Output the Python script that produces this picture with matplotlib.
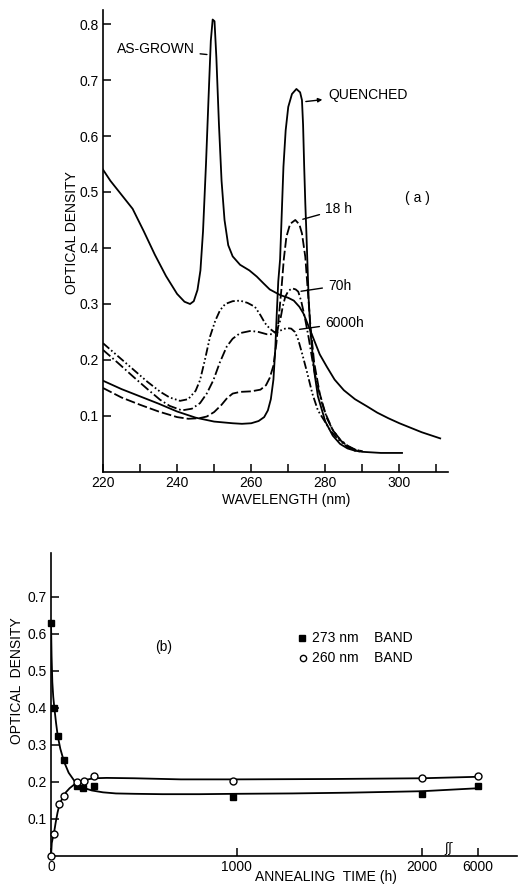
#!/usr/bin/env python3

import numpy as np
import matplotlib
matplotlib.use('Agg')
import matplotlib.pyplot as plt

plt.rcParams['font.family'] = ['Liberation Sans', 'DejaVu Sans']
plt.rcParams['font.size'] = 10
plt.rcParams['lines.scale_dashes'] = False

# ---- panel (a): absorption spectra ----
wl_grown = [220, 222, 225, 228, 231, 234, 237, 240, 242, 243.5, 244.5, 245.5, 246.3, 247, 247.8,
            248.5, 249.1, 249.6, 250.1, 250.6, 251.3, 252, 252.8, 253.8, 255, 257, 259.5, 261.5,
            263.3, 265, 267.8, 270, 271.5, 273, 274.1, 275.5, 277, 278.5, 280.4, 282.5, 285, 288,
            291.3, 294, 297, 300, 303, 306, 311]
od_grown = [0.54, 0.52, 0.495, 0.47, 0.43, 0.388, 0.35, 0.318, 0.304, 0.300, 0.305, 0.325, 0.36,
            0.43, 0.55, 0.67, 0.77, 0.808, 0.805, 0.74, 0.62, 0.52, 0.45, 0.405, 0.385, 0.37, 0.36,
            0.349, 0.337, 0.326, 0.316, 0.311, 0.306, 0.295, 0.283, 0.26, 0.235, 0.21, 0.188,
            0.165, 0.146, 0.13, 0.117, 0.106, 0.096, 0.087, 0.079, 0.071, 0.06]

wl_quench = [220, 225, 230, 235, 240, 245, 250, 255, 257.5, 260, 262, 263.5, 264.5, 265.3, 266,
             266.5, 266.9, 267.3, 267.8, 268.7, 269.3, 270, 271, 272.2, 273.2, 273.7, 274, 274.3,
             274.6, 274.9, 275.5, 276, 277, 278, 280, 282, 284, 286, 288, 290, 295, 300.7]
od_quench = [0.163, 0.148, 0.135, 0.122, 0.108, 0.097, 0.09, 0.087, 0.086, 0.087, 0.091, 0.098,
             0.11, 0.13, 0.165, 0.22, 0.283, 0.34, 0.38, 0.545, 0.61, 0.652, 0.675, 0.684, 0.678,
             0.664, 0.62, 0.545, 0.48, 0.426, 0.31, 0.25, 0.18, 0.135, 0.09, 0.065, 0.05, 0.042,
             0.038, 0.036, 0.034, 0.034]

wl_18h = [220, 225, 230, 235, 240, 243, 246, 248, 250, 252, 253.5, 255, 257, 260, 262.5, 264,
          265, 266, 266.8, 267.5, 268.2, 268.8, 269.5, 270.5, 271.9, 273, 273.7, 274.6, 275.2,
          276, 277, 278.5, 280, 282, 284, 286, 288, 290]
od_18h = [0.15, 0.133, 0.12, 0.108, 0.098, 0.095, 0.096, 0.099, 0.107, 0.12, 0.132, 0.14, 0.143,
          0.144, 0.147, 0.155, 0.168, 0.19, 0.23, 0.28, 0.33, 0.38, 0.42, 0.443, 0.45, 0.442,
          0.426, 0.384, 0.33, 0.26, 0.195, 0.14, 0.105, 0.075, 0.057, 0.046, 0.04, 0.037]

wl_70h = [220, 224, 228.2, 232, 235.4, 238, 241.3, 244, 246.2, 248, 249.8, 251.5, 253.4, 255, 257,
          259.9, 262, 264.2, 265.8, 266.9, 267.8, 268.5, 269.2, 270, 271, 272, 272.7, 273.5,
          274.5, 275.5, 276.5, 277.5, 279, 280.5, 282, 284, 286, 288, 290]
od_70h = [0.218, 0.195, 0.17, 0.148, 0.129, 0.118, 0.11, 0.113, 0.123, 0.14, 0.164, 0.195, 0.224,
          0.238, 0.248, 0.252, 0.25, 0.246, 0.246, 0.252, 0.27, 0.295, 0.313, 0.323, 0.328, 0.326,
          0.322, 0.305, 0.275, 0.24, 0.2, 0.165, 0.125, 0.095, 0.075, 0.058, 0.047, 0.04, 0.037]

wl_6000h = [220, 224, 228, 232, 235.5, 238, 240.8, 243, 245, 246.2, 247.5, 248.9, 250.3, 251.6,
            253, 255, 257, 259, 261, 262.5, 263.7, 265, 266.2, 267.2, 268.3, 269.6, 270.8, 271.8,
            272.7, 273.8, 275, 276.5, 278, 279.6, 281.5, 283.5, 285.9, 288, 290]
od_6000h = [0.23, 0.207, 0.184, 0.161, 0.143, 0.133, 0.127, 0.13, 0.145, 0.164, 0.2, 0.242, 0.27,
            0.289, 0.3, 0.305, 0.306, 0.302, 0.295, 0.28, 0.266, 0.256, 0.25, 0.25, 0.254, 0.257,
            0.256, 0.25, 0.236, 0.21, 0.18, 0.14, 0.11, 0.093, 0.073, 0.058, 0.045, 0.038, 0.036]

# ---- panel (b): band intensity vs annealing time ----
sq_t = [0, 18, 36, 70, 140, 175, 232, 980, 2000, 6000]
sq_od = [0.63, 0.40, 0.325, 0.26, 0.19, 0.185, 0.188, 0.16, 0.167, 0.188]
circ_t = [0, 16, 45, 70, 140, 180, 230, 980, 2000, 6000]
circ_od = [0.0, 0.06, 0.14, 0.163, 0.199, 0.203, 0.217, 0.203, 0.212, 0.217]

sq_fit_t = [0, 3, 7, 12, 18, 27, 36, 50, 70, 95, 130, 170, 220, 280, 350, 450, 600, 800, 1000,
            1300, 1600, 2000, 6000]
sq_fit_od = [0.63, 0.54, 0.47, 0.43, 0.40, 0.36, 0.325, 0.29, 0.255, 0.225, 0.2, 0.185, 0.177,
             0.172, 0.169, 0.168, 0.167, 0.167, 0.168, 0.169, 0.171, 0.175, 0.183]
circ_fit_t = [0, 4, 10, 16, 25, 35, 45, 60, 80, 100, 140, 180, 230, 300, 450, 700, 1000, 1500,
              2000, 6000]
circ_fit_od = [0.0, 0.035, 0.05, 0.062, 0.09, 0.117, 0.138, 0.155, 0.172, 0.183, 0.199, 0.205,
               0.21, 0.211, 0.21, 0.207, 0.207, 0.208, 0.21, 0.214]

LW = 1.3
DASH_18 = (0, (7, 2.2))
DASH_70 = (0, (7, 2, 1.2, 2))
DASH_6000 = (0, (6, 1.8, 1.2, 1.8, 1.2, 1.8))


def style_axes(ax):
    for s in ['top', 'right']:
        ax.spines[s].set_visible(False)
    for s in ['left', 'bottom']:
        ax.spines[s].set_linewidth(1.2)
    ax.tick_params(which='both', direction='in', length=6, width=1.1, pad=3, labelsize=10)


fig = plt.figure(figsize=(5.18, 8.86), dpi=100)

# panel (a)
ax1 = fig.add_axes([0.1988, 0.4673, 0.666, 0.5214])
style_axes(ax1)
ax1.plot(wl_grown, od_grown, color='k', lw=LW)
ax1.plot(wl_quench, od_quench, color='k', lw=LW)
ax1.plot(wl_18h, od_18h, color='k', lw=LW, linestyle=DASH_18)
ax1.plot(wl_70h, od_70h, color='k', lw=LW, linestyle=DASH_70)
ax1.plot(wl_6000h, od_6000h, color='k', lw=LW, linestyle=DASH_6000)

ax1.set_xlim(220, 313.1)
ax1.set_ylim(0, 0.825)
ax1.set_xticks([220, 240, 260, 280, 300])
ax1.set_xticks([230, 250, 270, 290, 310], minor=True)
ax1.set_yticks([0.1, 0.2, 0.3, 0.4, 0.5, 0.6, 0.7, 0.8])
ax1.set_yticklabels(['0.1', '0.2', '0.3', '0.4', '0.5', '0.6', '0.7', '0.8'])
ax1.set_xlabel('WAVELENGTH (nm)', fontsize=10)
ax1.set_ylabel('OPTICAL DENSITY', fontsize=10)
ax1.xaxis.set_label_coords(0.53, -0.045)
ax1.yaxis.set_label_coords(-0.07, 0.519)

lead = dict(arrowstyle='-', color='k', lw=1.0)
ax1.annotate('AS-GROWN', xy=(248.8, 0.745), xytext=(223.7, 0.755), va='center', ha='left',
             arrowprops=lead)
ax1.annotate('QUENCHED', xy=(274.0, 0.661), xytext=(280.7, 0.674), va='center', ha='left',
             arrowprops=dict(arrowstyle='<|-', color='k', lw=1.0, mutation_scale=6))
ax1.annotate('18 h', xy=(273.2, 0.45), xytext=(279.9, 0.469), va='center', ha='left',
             arrowprops=lead)
ax1.annotate('70h', xy=(272.7, 0.322), xytext=(280.7, 0.333), va='center', ha='left',
             arrowprops=lead)
ax1.annotate('6000h', xy=(272.3, 0.254), xytext=(279.9, 0.266), va='center', ha='left',
             arrowprops=lead)
ax1.text(301.5, 0.489, '( a )', va='center', ha='left')

# panel (b) with broken time axis: 2000..6000 h squeezed into a short stretch
def fwd(t):
    t = np.asarray(t, dtype=float)
    return np.where(t <= 2000, t, 2000 + (t - 2000) * 300.0 / 4000.0)


def inv(d):
    d = np.asarray(d, dtype=float)
    return np.where(d <= 2000, d, 2000 + (d - 2000) * 4000.0 / 300.0)


ax2 = fig.add_axes([0.0985, 0.0339, 0.8996, 0.342])
style_axes(ax2)
ax2.set_xscale('function', functions=(fwd, inv))
ax2.plot(sq_fit_t, sq_fit_od, color='k', lw=LW)
ax2.plot(circ_fit_t, circ_fit_od, color='k', lw=LW)
ax2.plot(sq_t, sq_od, 's', color='k', markersize=5, clip_on=False, zorder=4)
ax2.plot(circ_t, circ_od, 'o', mfc='white', mec='k', mew=1.0, markersize=5, clip_on=False,
         zorder=4)

ax2.set_xlim(0, 8830)
ax2.set_ylim(0, 0.819)
ax2.set_xticks([0, 1000, 2000, 6000])
ax2.set_xticklabels(['0', '1000', '2000', '6000'])
ax2.minorticks_off()
ax2.set_yticks([0.1, 0.2, 0.3, 0.4, 0.5, 0.6, 0.7])
ax2.set_yticklabels(['0.1', '0.2', '0.3', '0.4', '0.5', '0.6', '0.7'])
ax2.set_xlabel('ANNEALING  TIME (h)', fontsize=10)
ax2.set_ylabel('OPTICAL  DENSITY', fontsize=10)
ax2.xaxis.set_label_coords(0.59, -0.046)
ax2.yaxis.set_label_coords(-0.058, 0.58)

ax2.text(561, 0.565, '(b)', va='center', ha='left')
ax2.plot([1352], [0.588], 's', color='k', markersize=5)
ax2.plot([1357], [0.536], 'o', mfc='white', mec='k', mew=1.0, markersize=4.5)
ax2.text(1405, 0.588, '273 nm    BAND', va='center', ha='left')
ax2.text(1405, 0.536, '260 nm    BAND', va='center', ha='left')

# axis break mark
ax2.text(0.854, 0.004, 'ʃʃ', transform=ax2.transAxes, ha='center', va='bottom', fontsize=9,
         family='DejaVu Sans')

fig.savefig('out.png', dpi=100)
